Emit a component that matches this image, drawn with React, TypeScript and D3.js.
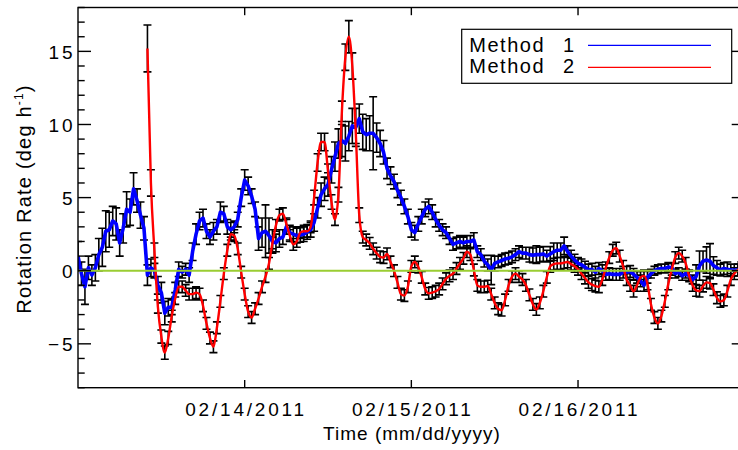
import { useEffect, useRef } from 'react'

import * as d3 from 'd3'

// Eixo do tempo: 13/02/2011 00h até 17/02/2011 00h, amostras a cada 30 minutos
const axisStart = new Date(2011, 1, 13, 0, 0)
const axisEnd = new Date(2011, 1, 17, 0, 0)
const stepMinutes = 30
const method1Start = new Date(2011, 1, 13, 0, 0)
const method2Start = new Date(2011, 1, 13, 10, 0)

const method1Rate = [
  1.0, -0.2, -1.1, 0.2, -0.3, 0.2, 1.1, 1.6, 2.7, 2.8, 3.4, 3.2, 1.9, 2.9, 4.2, 4.0,
  5.6, 4.8, 3.8, 2.9, -0.3, 0.2, 0.0, -1.0, -1.5, -2.9, -2.5, -2.5, -1.3, 0.1, -0.1, 0.1,
  -0.3, 1.3, 2.5, 3.4, 3.6, 2.7, 2.3, 2.7, 3.0, 4.0, 3.9, 3.0, 2.8, 3.0, 3.5, 5.0,
  6.2, 5.8, 5.1, 4.2, 2.2, 2.6, 2.7, 2.4, 2.0, 1.9, 2.2, 2.3, 3.0, 2.6, 2.5, 2.4,
  2.45, 2.5, 2.65, 2.8, 3.3, 4.3, 5.2, 5.6, 5.9, 6.9, 7.8, 8.7, 8.9, 8.7, 9.2, 9.9,
  9.8, 10.4, 9.5, 9.3, 9.4, 9.4, 9.1, 8.7, 8.1, 7.0, 6.5, 6.1, 5.5, 5.0, 4.4, 3.7,
  2.8, 2.6, 3.2, 3.7, 4.2, 4.4, 4.0, 3.5, 3.1, 2.8, 2.6, 2.2, 1.8, 1.9, 2.0, 1.9,
  2.0, 2.0, 2.1, 1.3, 1.1, 0.65, 0.4, 0.05, 0.5, 0.6, 0.7, 0.8, 0.85, 0.95, 1.1,
  1.3, 1.2, 1.2, 1.1, 1.05, 1.1, 1.1, 1.15, 1.0, 1.15, 1.3, 1.4, 1.4, 1.7, 1.3, 1.0,
  0.73, 0.5, 0.4, 0.25, 0.05, 0.1, -0.1, 0.15, 0.0, -0.25, -0.2, -0.25, -0.25, -0.25, -0.1, -0.1,
  -0.05, -0.25, -0.45, -0.7, -1.0, -0.45, -0.2, 0.0, 0.1, 0.15, 0.15, 0.25, 0.2, -0.2, -0.1, -0.35,
  -0.2, -0.35, -0.6, -0.4, 0.35, 0.65, 0.73, 0.65, 0.35, 0.2, 0.05, 0.15, 0.1, 0.05, 0.05, 0.05, 0.05,
]

const method1Err = [
  1.0, 0.8, 1.2, 0.8, 0.7, 0.9, 1.1, 1.3, 1.4, 1.2, 1.0, 1.1, 0.9, 1.0, 1.2, 0.9,
  1.1, 0.8, 0.9, 0.8, 0.7, 0.6, 0.5, 0.6, 0.7, 0.8, 0.6, 0.5, 0.5, 0.5, 0.4, 0.4,
  0.5, 0.6, 0.7, 0.6, 0.6, 0.5, 0.5, 0.6, 0.5, 0.7, 0.5, 0.5, 0.5, 0.4, 0.5, 0.6,
  0.7, 0.6, 0.5, 0.5, 0.8, 1.0, 1.8, 1.2, 0.8, 0.6, 0.6, 0.5, 0.5, 0.5, 0.5, 0.5,
  0.5, 0.5, 0.5, 0.5, 0.6, 0.7, 0.8, 0.8, 0.8, 0.9, 1.0, 1.0, 1.1, 1.2, 1.0, 1.2,
  1.3, 1.0, 1.2, 1.1, 1.2, 2.5, 1.0, 0.9, 0.8, 0.7, 0.6, 0.5, 0.5, 0.5, 0.5, 0.5,
  0.5, 0.5, 0.5, 0.5, 0.5, 0.5, 0.5, 0.5, 0.4, 0.4, 0.4, 0.4, 0.4, 0.4, 0.4, 0.4,
  0.4, 0.4, 0.5, 0.4, 0.4, 0.4, 0.4, 1.0, 0.5, 0.4, 0.4, 0.4, 0.4, 0.4, 0.4,
  0.4, 0.4, 0.4, 0.5, 0.5, 0.6, 0.5, 0.5, 0.4, 0.5, 0.6, 0.5, 0.5, 0.6, 0.4, 0.4,
  0.4, 0.4, 0.4, 0.4, 0.4, 0.4, 0.4, 0.4, 0.4, 0.4, 0.4, 0.4, 0.4, 0.4, 0.4, 0.4,
  0.4, 0.4, 0.4, 0.4, 0.4, 0.4, 0.3, 0.3, 0.3, 0.3, 0.3, 0.3, 0.3, 0.3, 0.3, 0.3,
  0.3, 0.3, 0.3, 0.8, 1.0, 0.7, 0.9, 1.2, 0.6, 0.5, 0.4, 0.4, 0.5, 0.4, 0.4, 0.4, 0.4,
]

const method2Rate = [
  15.2, 6.0, 1.4, -2.45, -4.5, -5.6, -4.6, -3.1, -1.9, -1.1, -1.1, -1.35,
  -1.6, -1.6, -1.5, -1.6, -2.4, -3.6, -4.6, -5.2, -3.9, -2.1, -0.2, 1.4, 2.5, 2.4, 1.5, -0.1,
  -1.6, -2.8, -3.2, -2.6, -1.9, -1.1, -0.4, 0.5, 1.9, 3.1, 3.8, 3.9, 3.2, 2.4, 1.8, 2.0,
  2.6, 2.7, 2.7, 3.0, 5.0, 7.4, 8.8, 8.8, 6.8, 4.7, 3.5, 5.2, 10.9, 14.6, 16.0, 14.0,
  9.4, 3.8, 2.3, 2.1, 1.87, 1.5, 1.2, 0.95, 0.9, 1.15, 0.6, 0.0, -0.8, -1.6, -1.7, -1.1,
  0.3, 0.6, 0.25, -0.45, -1.25, -1.55, -1.5, -1.4, -1.25, -0.9, -0.55, -0.35, -0.2, 0.15, 0.5, 0.85,
  1.3, 1.1, 0.05, -1.0, -1.1, -1.1, -1.05, -1.6, -2.2, -2.6, -2.7, -2.0, -1.0, -0.4, -0.2,
  -0.4, -0.6, -1.0, -1.65, -2.3, -2.65, -2.2, -1.4, -0.45, 0.3, 0.45, 0.5, 0.5, 0.55, 0.6, 0.45,
  0.3, 0.1, -0.2, -0.5, -0.8, -0.95, -1.05, -1.1, -0.6, 0.2, 0.9, 1.4, 1.55, 1.0, 0.3, -0.6,
  -1.0, -1.4, -1.0, -0.45, -0.35, -0.9, -2.3, -3.2, -3.6, -3.1, -2.1, -0.9, 0.1, 0.9, 1.2, 1.0,
  0.5, -0.35, -1.0, -1.35, -1.4, -1.05, -0.8, -0.85, -1.3, -1.85, -2.1, -2.0, -1.4, -0.6, -0.2, 0.05, 0.2,
]

const method2Err = [
  1.6, 0.9, 0.5, 0.45, 0.45, 0.45, 0.45, 0.4, 0.4, 0.4, 0.4, 0.4,
  0.4, 0.4, 0.4, 0.4, 0.4, 0.4, 0.4, 0.4, 0.4, 0.4, 0.4, 0.4, 0.4, 0.4, 0.4, 0.4,
  0.4, 0.4, 0.4, 0.4, 0.4, 0.4, 0.4, 0.4, 0.4, 0.4, 0.4, 0.4, 0.4, 0.4, 0.4, 0.4,
  0.4, 0.4, 0.4, 0.4, 0.5, 0.6, 0.6, 0.6, 0.5, 0.5, 0.4, 0.5, 0.7, 0.9, 1.1, 0.9,
  0.7, 0.5, 0.4, 0.4, 0.4, 0.4, 0.4, 0.4, 0.4, 0.4, 0.4, 0.4, 0.4, 0.4, 0.4, 0.4,
  0.4, 0.4, 0.4, 0.4, 0.4, 0.4, 0.4, 0.4, 0.4, 0.4, 0.4, 0.4, 0.4, 0.4, 0.4, 0.4,
  0.4, 0.4, 0.4, 0.4, 0.4, 0.4, 0.4, 0.4, 0.4, 0.4, 0.4, 0.4, 0.4, 0.4, 0.4,
  0.4, 0.4, 0.4, 0.4, 0.4, 0.4, 0.4, 0.4, 0.4, 0.4, 0.4, 0.4, 0.4, 0.4, 0.4, 0.4,
  0.4, 0.4, 0.4, 0.4, 0.4, 0.4, 0.4, 0.4, 0.4, 0.4, 0.4, 0.4, 0.4, 0.4, 0.4, 0.4,
  0.4, 0.4, 0.4, 0.4, 0.4, 0.4, 0.4, 0.4, 0.4, 0.4, 0.4, 0.4, 0.4, 0.4, 0.4, 0.4,
  0.4, 0.4, 0.4, 0.4, 0.4, 0.4, 0.4, 0.4, 0.4, 0.4, 0.4, 0.4, 0.4, 0.4, 0.4, 0.4, 0.4,
]

const yMajorTicks = [-5, 0, 5, 10, 15]
const xTickDates = [new Date(2011, 1, 14), new Date(2011, 1, 15), new Date(2011, 1, 16)]
const legendLabels = ['Method 1', 'Method 2']

type Point = { t: Date; v: number; e: number }

const toPoints = (start: Date, rates: number[], errs: number[]): Point[] =>
  rates.map((v, i) => ({ t: d3.timeMinute.offset(start, i * stepMinutes), v, e: errs[i] }))

const App = () => {
  const ref = useRef<SVGSVGElement>(null)

  useEffect(() => {
    const svg = d3.select(ref.current)
    svg.selectAll('*').remove()

    const font = 'Liberation Sans, Arial, sans-serif'
    // Caixa do gráfico (a borda direita fica fora da imagem, como no original)
    const box = { left: 78, right: 744.7, top: 7.5, bottom: 387.7 }

    const x = d3.scaleTime().domain([axisStart, axisEnd]).range([box.left, box.right])
    const y = d3.scaleLinear().domain([-8, 18]).range([box.bottom, box.top])

    svg.append('rect').attr('width', 738).attr('height', 450).attr('fill', '#fff')

    svg
      .append('defs')
      .append('clipPath')
      .attr('id', 'plot-clip')
      .append('rect')
      .attr('x', box.left)
      .attr('y', box.top)
      .attr('width', box.right - box.left)
      .attr('height', box.bottom - box.top)

    const plot = svg.append('g').attr('clip-path', 'url(#plot-clip)')

    const method1 = toPoints(method1Start, method1Rate, method1Err)
    const method2 = toPoints(method2Start, method2Rate, method2Err)

    // Barras de erro em preto
    const errPath = (pts: Point[]) => {
      const p = d3.path()
      const cap = 4
      pts.forEach((d) => {
        const px = x(d.t)
        const y0 = y(d.v - d.e)
        const y1 = y(d.v + d.e)
        p.moveTo(px, y0)
        p.lineTo(px, y1)
        p.moveTo(px - cap, y0)
        p.lineTo(px + cap, y0)
        p.moveTo(px - cap, y1)
        p.lineTo(px + cap, y1)
      })
      return p.toString()
    }

    ;[method1, method2].forEach((pts) => {
      plot
        .append('path')
        .attr('d', errPath(pts))
        .attr('fill', 'none')
        .attr('stroke', '#000')
        .attr('stroke-width', 1.6)
    })

    const line1 = d3
      .line<Point>()
      .x((d) => x(d.t))
      .y((d) => y(d.v))
    const line2 = d3
      .line<Point>()
      .x((d) => x(d.t))
      .y((d) => y(d.v))
      .curve(d3.curveMonotoneX)

    plot
      .append('path')
      .datum(method1)
      .attr('d', line1)
      .attr('fill', 'none')
      .attr('stroke', '#0000ff')
      .attr('stroke-width', 3.6)
      .attr('stroke-linejoin', 'round')

    plot
      .append('path')
      .datum(method2)
      .attr('d', line2)
      .attr('fill', 'none')
      .attr('stroke', '#ff0000')
      .attr('stroke-width', 2.4)
      .attr('stroke-linejoin', 'round')

    // Linha do zero
    plot
      .append('line')
      .attr('x1', box.left)
      .attr('x2', box.right)
      .attr('y1', y(0))
      .attr('y2', y(0))
      .attr('stroke', '#9acd32')
      .attr('stroke-width', 2)

    // Moldura
    svg
      .append('rect')
      .attr('x', box.left)
      .attr('y', box.top)
      .attr('width', box.right - box.left)
      .attr('height', box.bottom - box.top)
      .attr('fill', 'none')
      .attr('stroke', '#000')
      .attr('stroke-width', 1.4)

    const ticks = svg.append('g').attr('stroke', '#000').attr('stroke-width', 1.4)

    // Marcas do eixo Y (esquerda e direita)
    d3.range(-8, 19).forEach((v) => {
      const len = yMajorTicks.includes(v) ? 13 : 6.7
      ticks.append('line').attr('x1', box.left).attr('x2', box.left + len).attr('y1', y(v)).attr('y2', y(v))
      ticks.append('line').attr('x1', box.right).attr('x2', box.right - len).attr('y1', y(v)).attr('y2', y(v))
    })

    // Marcas do eixo X (baixo e cima)
    xTickDates.forEach((d) => {
      ticks.append('line').attr('x1', x(d)).attr('x2', x(d)).attr('y1', box.bottom).attr('y2', box.bottom - 7.7)
      ticks.append('line').attr('x1', x(d)).attr('x2', x(d)).attr('y1', box.top).attr('y2', box.top + 7.7)
    })

    const fmtY = d3.format('d')
    yMajorTicks.forEach((v) => {
      svg
        .append('text')
        .attr('x', 72.7 + 3)
        .attr('y', y(v) + 7.3)
        .attr('text-anchor', 'end')
        .attr('font-family', font)
        .attr('font-size', 19)
        .attr('letter-spacing', 3)
        .text(fmtY(v))
    })

    const fmtX = d3.timeFormat('%m/%d/%Y')
    xTickDates.forEach((d) => {
      svg
        .append('text')
        .attr('x', x(d) + 1.4)
        .attr('y', 416)
        .attr('text-anchor', 'middle')
        .attr('font-family', font)
        .attr('font-size', 19)
        .attr('letter-spacing', 2.8)
        .text(fmtX(d))
    })

    svg
      .append('text')
      .attr('x', 412)
      .attr('y', 440)
      .attr('text-anchor', 'middle')
      .attr('font-family', font)
      .attr('font-size', 19)
      .attr('letter-spacing', 1)
      .text('Time (mm/dd/yyyy)')

    const yLabel = svg
      .append('text')
      .attr('transform', 'translate(31,199) rotate(-90)')
      .attr('text-anchor', 'middle')
      .attr('font-family', font)
      .attr('font-size', 20)
      .attr('letter-spacing', 1.2)
    yLabel.append('tspan').text('Rotation Rate (deg h')
    yLabel.append('tspan').attr('font-size', 12).attr('dy', -8).text('-1')
    yLabel.append('tspan').attr('dy', 8).text(')')

    // Legenda
    const legend = svg.append('g')
    legend
      .append('rect')
      .attr('x', 461.7)
      .attr('y', 29.3)
      .attr('width', 270)
      .attr('height', 54)
      .attr('fill', '#fff')
      .attr('stroke', '#000')
      .attr('stroke-width', 1.2)
    const legendColors = ['#0000ff', '#ff0000']
    legendLabels.forEach((label, i) => {
      legend
        .append('text')
        .attr('x', 469.3)
        .attr('y', 51.7 + i * 21)
        .attr('font-family', font)
        .attr('font-size', 20)
        .attr('letter-spacing', 1.5)
        .attr('word-spacing', 11)
        .text(label)
      legend
        .append('line')
        .attr('x1', 588)
        .attr('x2', 711)
        .attr('y1', 45.3 + i * 22)
        .attr('y2', 45.3 + i * 22)
        .attr('stroke', legendColors[i])
        .attr('stroke-width', 1.2)
    })
  }, [])

  return <svg ref={ref} width={738} height={450} style={{ position: 'absolute', left: 0, top: 0 }} />
}

export default App
